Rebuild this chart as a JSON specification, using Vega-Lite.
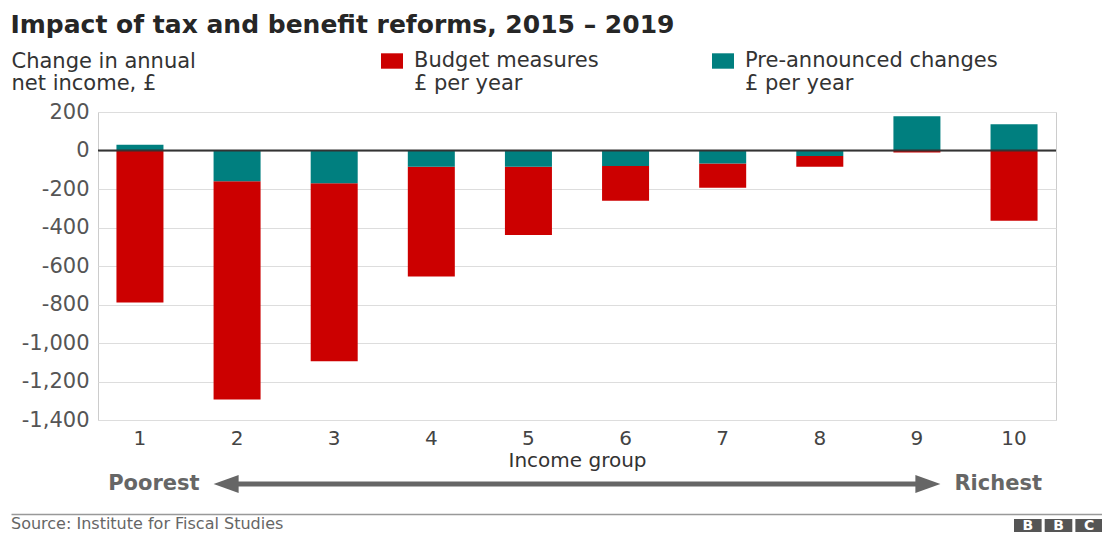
{
  "$schema": "https://vega.github.io/schema/vega-lite/v6.json",
  "padding": {"left": 10, "top": 12, "right": 0, "bottom": 0},
  "config": {
    "font": "DejaVu Sans",
    "view": {"stroke": null},
    "axis": {"labelFont": "DejaVu Sans", "titleFont": "DejaVu Sans"},
    "legend": {"labelFont": "DejaVu Sans"}
  },
  "title": {
    "text": "Impact of tax and benefit reforms, 2015 – 2019",
    "anchor": "start",
    "frame": "bounds",
    "fontSize": 25,
    "fontWeight": "bold",
    "color": "#262626",
    "offset": 12
  },
  "datasets": {
    "reforms": [
      {"group": "1", "series": "Budget measures", "value": -790},
      {"group": "1", "series": "Pre-announced changes", "value": 30},
      {"group": "2", "series": "Budget measures", "value": -1133},
      {"group": "2", "series": "Pre-announced changes", "value": -160},
      {"group": "3", "series": "Budget measures", "value": -925},
      {"group": "3", "series": "Pre-announced changes", "value": -170},
      {"group": "4", "series": "Budget measures", "value": -570},
      {"group": "4", "series": "Pre-announced changes", "value": -85},
      {"group": "5", "series": "Budget measures", "value": -354},
      {"group": "5", "series": "Pre-announced changes", "value": -85},
      {"group": "6", "series": "Budget measures", "value": -181},
      {"group": "6", "series": "Pre-announced changes", "value": -80},
      {"group": "7", "series": "Budget measures", "value": -127},
      {"group": "7", "series": "Pre-announced changes", "value": -67},
      {"group": "8", "series": "Budget measures", "value": -57},
      {"group": "8", "series": "Pre-announced changes", "value": -28},
      {"group": "9", "series": "Budget measures", "value": -10},
      {"group": "9", "series": "Pre-announced changes", "value": 178},
      {"group": "10", "series": "Budget measures", "value": -365},
      {"group": "10", "series": "Pre-announced changes", "value": 137}
    ],
    "ends": [
      {"end": "Poorest", "group": "2"},
      {"end": "Richest", "group": "9"}
    ],
    "arrow": [{"from": "2", "to": "9"}],
    "source": [{"source": "Source: Institute for Fiscal Studies"}],
    "logo": [
      {"box": "B1", "letter": "B"},
      {"box": "B2", "letter": "B"},
      {"box": "C", "letter": "C"}
    ]
  },
  "bounds": "full",
  "spacing": 11,
  "vconcat": [
    {
      "bounds": "flush",
      "spacing": 45,
      "vconcat": [
        {
          "width": 958,
          "height": 308,
          "view": {"stroke": "#cccccc"},
          "layer": [
            {
              "data": {"name": "reforms"},
              "mark": {"type": "bar"},
              "encoding": {
                "x": {
                  "field": "group",
                  "type": "ordinal",
                  "scale": {"domain": ["1","2","3","4","5","6","7","8","9","10"], "paddingInner": 0.516, "paddingOuter": 0.19},
                  "axis": {
                    "title": "Income group",
                    "labelAngle": 0,
                    "labelFontSize": 20,
                    "labelColor": "#444444",
                    "labelPadding": 8,
                    "ticks": false,
                    "domain": false,
                    "titleFontSize": 20,
                    "titleFontWeight": "normal",
                    "titleColor": "#333333",
                    "titlePadding": 2
                  }
                },
                "y": {
                  "field": "value",
                  "type": "quantitative",
                  "stack": "zero",
                  "scale": {"domain": [-1400, 200], "nice": false},
                  "axis": {
                    "values": [-1400, -1200, -1000, -800, -600, -400, -200, 0, 200],
                    "tickCount": 10,
                    "labelExpr": "replace(format(datum.value, ','), '−', '-')",
                    "labelOverlap": false,
                    "labelFontSize": 21,
                    "labelColor": "#555555",
                    "labelPadding": 9,
                    "ticks": false,
                    "domain": false,
                    "grid": true,
                    "gridColor": "#dddddd",
                    "title": ["Change in annual", "net income, £"],
                    "titleAngle": 0,
                    "titleAlign": "left",
                    "titleBaseline": "top",
                    "titleX": -87,
                    "titleY": -62,
                    "titleFontSize": 21,
                    "titleFontWeight": "normal",
                    "titleColor": "#333333",
                    "titleLineHeight": 22
                  }
                },
                "color": {
                  "field": "series",
                  "type": "nominal",
                  "scale": {"domain": ["Budget measures", "Pre-announced changes"], "range": ["#cc0000", "#007f7f"]},
                  "legend": {
                    "orient": "none",
                    "legendX": 283,
                    "legendY": -62,
                    "direction": "horizontal",
                    "gridAlign": "each",
                    "columnPadding": 113,
                    "title": null,
                    "symbolType": "M-1,-0.7L1,-0.7L1,0.7L-1,0.7Z",
                    "symbolSize": 484,
                    "symbolStrokeWidth": 0,
                    "labelFontSize": 21,
                    "labelColor": "#333333",
                    "labelLimit": 400,
                    "labelOffset": 11,
                    "labelExpr": "[datum.label, '£ per year']"
                  }
                },
                "order": {"field": "series", "sort": "descending"}
              }
            },
            {
              "data": {"values": [{"baseline": 0}]},
              "mark": {"type": "rule", "color": "#333333", "strokeWidth": 2},
              "encoding": {"y": {"field": "baseline", "type": "quantitative"}}
            }
          ]
        },
        {
          "width": 958,
          "height": 38,
          "layer": [
            {
              "data": {"name": "arrow"},
              "mark": {"type": "rule", "color": "#666666", "strokeWidth": 5},
              "encoding": {
                "x": {"field": "from", "type": "ordinal", "scale": {"domain": ["1","2","3","4","5","6","7","8","9","10"], "paddingInner": 0.516, "paddingOuter": 0.19}, "axis": null},
                "x2": {"field": "to"}
              }
            },
            {
              "data": {"name": "ends"},
              "transform": [{"filter": "datum.end == 'Poorest'"}],
              "mark": {"type": "point", "shape": "M-1,0L1,-0.72L1,0.72Z", "filled": true, "color": "#666666", "opacity": 1, "size": 625, "strokeWidth": 0},
              "encoding": {
                "x": {"field": "group", "type": "ordinal", "bandPosition": 0.267, "scale": {"domain": ["1","2","3","4","5","6","7","8","9","10"], "paddingInner": 0.516, "paddingOuter": 0.19}, "axis": null}
              }
            },
            {
              "data": {"name": "ends"},
              "transform": [{"filter": "datum.end == 'Richest'"}],
              "mark": {"type": "point", "shape": "M1,0L-1,-0.72L-1,0.72Z", "filled": true, "color": "#666666", "opacity": 1, "size": 625, "strokeWidth": 0},
              "encoding": {
                "x": {"field": "group", "type": "ordinal", "bandPosition": 0.733, "scale": {"domain": ["1","2","3","4","5","6","7","8","9","10"], "paddingInner": 0.516, "paddingOuter": 0.19}, "axis": null}
              }
            },
            {
              "data": {"name": "ends"},
              "transform": [{"filter": "datum.end == 'Poorest'"}],
              "mark": {"type": "text", "align": "right", "baseline": "middle", "dx": -14, "fontSize": 21, "fontWeight": "bold", "color": "#666666"},
              "encoding": {
                "x": {"field": "group", "type": "ordinal", "bandPosition": 0, "scale": {"domain": ["1","2","3","4","5","6","7","8","9","10"], "paddingInner": 0.516, "paddingOuter": 0.19}, "axis": null},
                "text": {"field": "end"}
              }
            },
            {
              "data": {"name": "ends"},
              "transform": [{"filter": "datum.end == 'Richest'"}],
              "mark": {"type": "text", "align": "left", "baseline": "middle", "dx": 14, "fontSize": 21, "fontWeight": "bold", "color": "#666666"},
              "encoding": {
                "x": {"field": "group", "type": "ordinal", "bandPosition": 1, "scale": {"domain": ["1","2","3","4","5","6","7","8","9","10"], "paddingInner": 0.516, "paddingOuter": 0.19}, "axis": null},
                "text": {"field": "end"}
              }
            }
          ]
        }
      ]
    },
    {
      "width": 1005,
      "height": 18,
      "resolve": {"scale": {"x": "independent"}, "axis": {"x": "independent"}},
      "layer": [
        {
          "data": {"name": "source"},
          "mark": {"type": "text", "align": "left", "baseline": "middle", "dy": 1, "fontSize": 16, "color": "#666666"},
          "encoding": {
            "x": {
              "field": "source",
              "type": "nominal",
              "bandPosition": 0,
              "scale": {"type": "band", "range": [-87, 1005], "paddingInner": 0, "paddingOuter": 0},
              "axis": {"orient": "top", "title": null, "labels": false, "ticks": false, "domain": true, "domainColor": "#999999", "domainWidth": 1.5}
            },
            "text": {"field": "source"}
          }
        },
        {
          "data": {"name": "logo"},
          "encoding": {
            "x": {
              "field": "box",
              "type": "nominal",
              "scale": {"type": "band", "domain": ["B1", "B2", "C"], "range": [916, 1005], "paddingInner": 0.1, "paddingOuter": 0},
              "axis": null
            }
          },
          "layer": [
            {"mark": {"type": "bar", "color": "#555555", "yOffset": 5}},
            {
              "mark": {"type": "text", "color": "#ffffff", "fontWeight": "bold", "fontSize": 14, "baseline": "middle", "dy": 3},
              "encoding": {"text": {"field": "letter"}}
            }
          ]
        }
      ]
    }
  ]
}
